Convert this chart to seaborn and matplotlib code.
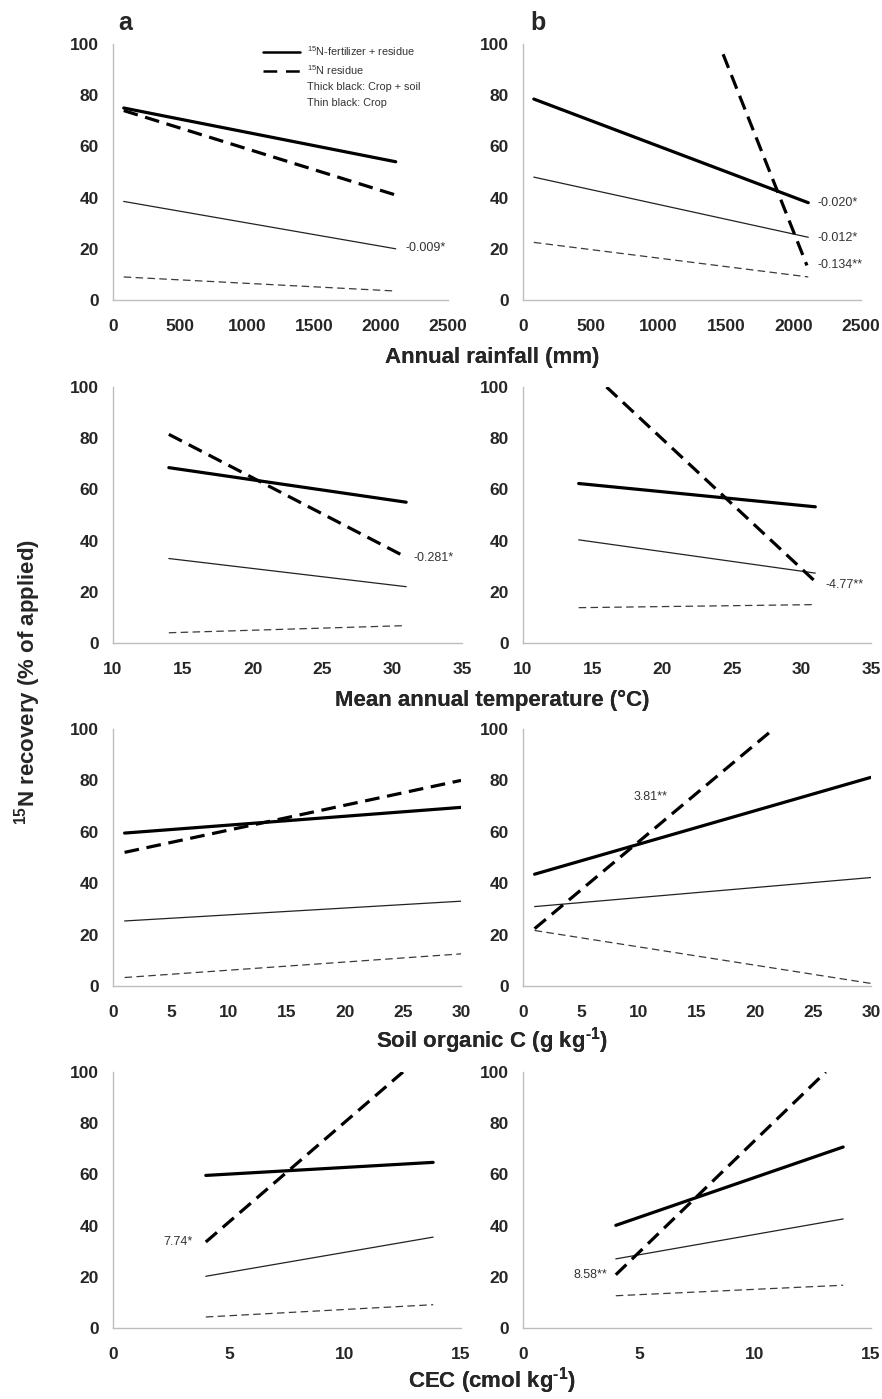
import matplotlib
matplotlib.use("Agg")
import matplotlib.pyplot as plt
from matplotlib.lines import Line2D
from matplotlib.ticker import MultipleLocator
import seaborn as sns
import pandas as pd

sns.set_style("white")
plt.rcParams['font.family'] = ['Liberation Sans', 'DejaVu Sans']
plt.rcParams['mathtext.fontset'] = 'custom'
plt.rcParams['mathtext.rm'] = 'Liberation Sans'
plt.rcParams['mathtext.bf'] = 'Liberation Sans:bold'
plt.rcParams['mathtext.default'] = 'regular'

# ---------------- data (regression line end points) ----------------
RAIN_X = [80, 2110]
TEMP_X = [14, 31]
SOC_X = [1, 30]
CEC_X = [4, 13.8]

# column a, annual rainfall
a_rain_soil_total = [75, 54]
a_rain_soil_resid = [74, 41]
a_rain_crop_total = [38.5, 20]
a_rain_crop_resid = [9, 3.5]
# column b, annual rainfall
b_rain_soil_total = [78.5, 38]
b_rain_soil_resid_x = [1480, 2100]
b_rain_soil_resid = [96, 13.5]
b_rain_crop_total = [48, 24.5]
b_rain_crop_resid = [22.5, 9]

# column a, temperature
a_temp_soil_total = [68.5, 55]
a_temp_soil_resid = [81.5, 33.5]
a_temp_crop_total = [33, 22]
a_temp_crop_resid = [4, 6.8]
# column b, temperature
b_temp_soil_total = [62.3, 53.2]
b_temp_soil_resid_x = [16, 31]
b_temp_soil_resid = [100, 24]
b_temp_crop_total = [40.3, 27.3]
b_temp_crop_resid = [13.8, 15]

# column a, soil organic C
a_soc_soil_total = [59.5, 69.5]
a_soc_soil_resid = [52, 80]
a_soc_crop_total = [25.3, 33]
a_soc_crop_resid = [3.3, 12.5]
# column b, soil organic C
b_soc_soil_total = [43.5, 81.2]
b_soc_soil_resid_x = [1, 21.6]
b_soc_soil_resid = [22.3, 100]
b_soc_crop_total = [30.9, 42.2]
b_soc_crop_resid = [21.6, 1]

# column a, CEC
a_cec_soil_total = [59.6, 64.7]
a_cec_soil_resid_x = [4, 12.5]
a_cec_soil_resid = [33.6, 100]
a_cec_crop_total = [20.2, 35.5]
a_cec_crop_resid = [4.3, 9.1]
# column b, CEC
b_cec_soil_total = [40.1, 70.7]
b_cec_soil_resid_x = [4, 13.05]
b_cec_soil_resid = [20.8, 100]
b_cec_crop_total = [27, 42.6]
b_cec_crop_resid = [12.6, 16.7]

X_LABELS = ["Annual rainfall (mm)",
            "Mean annual temperature (°C)",
            "Soil organic C (g kg$^{\\mathbf{\u2010}\\mathbf{1}}$)",
            "CEC (cmol kg$^{\\mathbf{\u2010}\\mathbf{1}}$)"]
Y_LABEL = r"$^{\mathbf{15}}$N recovery (% of applied)"
LEGEND_LABELS = [r"$^{15}$N-fertilizer + residue", r"$^{15}$N residue",
                 "Thick black: Crop + soil", "Thin black: Crop"]

# (row, col): dict of series
panels = {
    (0, 0): dict(x=RAIN_X, st=a_rain_soil_total, sr_x=RAIN_X, sr=a_rain_soil_resid,
                 ct=a_rain_crop_total, cr=a_rain_crop_resid,
                 notes=[("-0.009*", 2180, 20.3, 'left')]),
    (0, 1): dict(x=RAIN_X, st=b_rain_soil_total, sr_x=b_rain_soil_resid_x, sr=b_rain_soil_resid,
                 ct=b_rain_crop_total, cr=b_rain_crop_resid,
                 notes=[("-0.020*", 2175, 37.9, 'left'), ("-0.012*", 2175, 24.2, 'left'),
                        ("-0.134**", 2175, 13.7, 'left')]),
    (1, 0): dict(x=TEMP_X, st=a_temp_soil_total, sr_x=TEMP_X, sr=a_temp_soil_resid,
                 ct=a_temp_crop_total, cr=a_temp_crop_resid,
                 notes=[("-0.281*", 31.5, 33.2, 'left')]),
    (1, 1): dict(x=TEMP_X, st=b_temp_soil_total, sr_x=b_temp_soil_resid_x, sr=b_temp_soil_resid,
                 ct=b_temp_crop_total, cr=b_temp_crop_resid,
                 notes=[("-4.77**", 31.7, 22.7, 'left')]),
    (2, 0): dict(x=SOC_X, st=a_soc_soil_total, sr_x=SOC_X, sr=a_soc_soil_resid,
                 ct=a_soc_crop_total, cr=a_soc_crop_resid, notes=[]),
    (2, 1): dict(x=SOC_X, st=b_soc_soil_total, sr_x=b_soc_soil_resid_x, sr=b_soc_soil_resid,
                 ct=b_soc_crop_total, cr=b_soc_crop_resid,
                 notes=[("3.81**", 9.5, 73.5, 'left')]),
    (3, 0): dict(x=CEC_X, st=a_cec_soil_total, sr_x=a_cec_soil_resid_x, sr=a_cec_soil_resid,
                 ct=a_cec_crop_total, cr=a_cec_crop_resid,
                 notes=[("7.74*", 3.45, 33.6, 'right')]),
    (3, 1): dict(x=CEC_X, st=b_cec_soil_total, sr_x=b_cec_soil_resid_x, sr=b_cec_soil_resid,
                 ct=b_cec_crop_total, cr=b_cec_crop_resid,
                 notes=[("8.58**", 3.65, 20.7, 'right')]),
}

XLIM = [(0, 2500), (10, 35), (0, 30), (0, 15)]
XMAJ = [500, 5, 5, 5]
XMIN = [100, 1, 1, 1]

# layout in pixels: (top, bottom) per row, (left, right) per row/col
W, H = 882, 1399
ROW_Y = [(44, 300), (387, 643), (729, 986), (1072, 1328)]
ROW_X = [[(113, 448), (523, 861)],
         [(113, 462), (523, 871)],
         [(113, 461), (523, 871)],
         [(113, 461), (523, 871)]]
XLAB_BASE = [363, 706, 1048, 1388]

SPINE = "#bdbdbd"
THICK = 2.3
THIN = 0.9
THICK_DASH = (0, (4.6, 2.4))
THIN_DASH = (0, (6, 3.5))

fig = plt.figure(figsize=(W / 100, H / 100), dpi=100)

for (r, c), p in panels.items():
    (t, b) = ROW_Y[r]
    (l, rr) = ROW_X[r][c]
    ax = fig.add_axes([l / W, 1 - b / H, (rr - l) / W, (b - t) / H])
    df = pd.DataFrame({
        "x": list(p["x"]) + list(p["sr_x"]) + list(p["x"]) + list(p["x"]),
        "y": list(p["st"]) + list(p["sr"]) + list(p["ct"]) + list(p["cr"]),
        "s": ["st"] * 2 + ["sr"] * 2 + ["ct"] * 2 + ["cr"] * 2,
    })
    sns.lineplot(data=df[df.s == "ct"], x="x", y="y", ax=ax, color="#222222",
                 linewidth=THIN, estimator=None)
    sns.lineplot(data=df[df.s == "cr"], x="x", y="y", ax=ax, color="#3a3a3a",
                 linewidth=THIN, linestyle=THIN_DASH, estimator=None)
    sns.lineplot(data=df[df.s == "st"], x="x", y="y", ax=ax, color="black",
                 linewidth=THICK, estimator=None)
    sns.lineplot(data=df[df.s == "sr"], x="x", y="y", ax=ax, color="black",
                 linewidth=THICK, linestyle=THICK_DASH, estimator=None)

    ax.set_xlim(*XLIM[r])
    ax.set_ylim(0, 100)
    ax.xaxis.set_major_locator(MultipleLocator(XMAJ[r]))
    ax.xaxis.set_minor_locator(MultipleLocator(XMIN[r]))
    ax.yaxis.set_major_locator(MultipleLocator(20))
    ax.yaxis.set_minor_locator(MultipleLocator(5))
    ax.set_xlabel("")
    ax.set_ylabel("")
    for s in ["top", "right"]:
        ax.spines[s].set_visible(False)
    for s in ["left", "bottom"]:
        ax.spines[s].set_color(SPINE)
        ax.spines[s].set_linewidth(1.0)
    ax.tick_params(axis="both", which="both", direction="out", color=SPINE, width=0.8)
    ax.tick_params(axis="both", which="major", length=4, labelsize=12.5)
    ax.tick_params(axis="both", which="minor", length=3)
    ax.tick_params(axis="x", which="major", pad=10)
    ax.tick_params(axis="y", which="major", pad=6)
    for lab in ax.get_xticklabels() + ax.get_yticklabels():
        lab.set_fontweight("bold")
    ax.set_facecolor("white")

    for txt, tx, ty, ha in p["notes"]:
        ax.text(tx, ty, txt, ha=ha, va="center", fontsize=9, color="#333333", clip_on=False)

    if (r, c) == (0, 0):
        handles = [Line2D([], [], color="black", lw=1.8),
                   Line2D([], [], color="black", lw=1.8, linestyle=(0, (5.5, 3.5))),
                   Line2D([], [], color="none", lw=0),
                   Line2D([], [], color="none", lw=0)]
        leg = ax.legend(handles, LEGEND_LABELS, loc="upper left",
                        bbox_to_anchor=(0.447, 1.0), frameon=False, fontsize=7.8,
                        handlelength=3.4, handletextpad=0.7, labelspacing=0.5,
                        borderpad=0, borderaxespad=0)
        for tx in leg.get_texts():
            tx.set_color("#333333")

    fig.text(492 / W, 1 - XLAB_BASE[r] / H, X_LABELS[r], ha="center", va="baseline",
             fontsize=16, fontweight="bold")

fig.text(118 / W, 1 - 30 / H, "a", ha="left", va="baseline", fontsize=18, fontweight="bold")
fig.text(530 / W, 1 - 30 / H, "b", ha="left", va="baseline", fontsize=18, fontweight="bold")
fig.text(28 / W, 1 - 682 / H, Y_LABEL, ha="center", va="center", rotation=90,
         fontsize=16, fontweight="bold")

fig.savefig("out.png", dpi=100, facecolor="white")
